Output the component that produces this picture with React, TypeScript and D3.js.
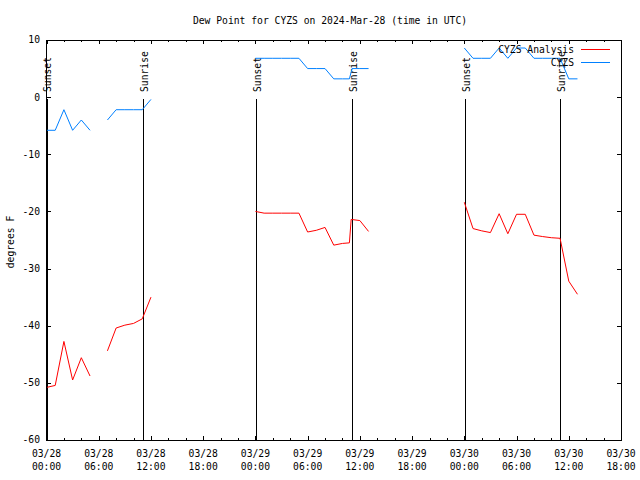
import * as d3 from 'd3';

// hours since 03/28 00:00 UTC, null = gap in the record
const obsHours = [0, 1, 2, 3, 4, 5, null, 7, 8, 9, 10, 11, 12, null,
  24, 25, 26, 27, 28, 29, 30, 31, 32, 33, 34, 34.8, 35.1, 36, 37, null,
  48, 49, 50, 51, 52, 53, 54, 55, 56, 57, 58, 59, 60, 61];
const obsValues = [-5.8, -5.8, -2.2, -5.8, -4, -5.8, null, -4, -2.2, -2.2, -2.2, -2.2, -0.4, null,
  6.8, 6.8, 6.8, 6.8, 6.8, 6.8, 5, 5, 5, 3.2, 3.2, 3.2, 5, 5, 5, null,
  8.6, 6.8, 6.8, 6.8, 8.6, 6.8, 8.6, 8.6, 6.8, 6.8, 6.8, 6.8, 3.2, 3.2];

const anaHours = [0, 1, 2, 3, 4, 5, null, 7, 8, 9, 10, 11, 12, null,
  24, 25, 26, 27, 28, 29, 30, 31, 32, 33, 34, 34.8, 35, 36, 37, null,
  48, 49, 50, 51, 52, 53, 54, 55, 56, 57, 58, 59, 60, 61];
const anaValues = [-50.8, -50.45, -42.75, -49.5, -45.6, -48.8, null, -44.4, -40.4, -39.9, -39.6, -38.8, -35, null,
  -20, -20.3, -20.3, -20.3, -20.3, -20.3, -23.6, -23.3, -22.8, -25.9, -25.6, -25.5, -21.4, -21.6, -23.5, null,
  -18.4, -23, -23.4, -23.7, -20.4, -23.9, -20.5, -20.5, -24.15, -24.4, -24.6, -24.7, -32.2, -34.5];

const sunsetHours = [0, 24.05, 48.1];
const sunriseHours = [11.05, 35.1, 59.0];

const xTickHours = [0, 6, 12, 18, 24, 30, 36, 42, 48, 54, 60, 66];
const xTickDates = ['03/28', '03/28', '03/28', '03/28', '03/29', '03/29', '03/29', '03/29', '03/30', '03/30', '03/30', '03/30'];
const xTickTimes = ['00:00', '06:00', '12:00', '18:00', '00:00', '06:00', '12:00', '18:00', '00:00', '06:00', '12:00', '18:00'];
const yTicks = [10, 0, -10, -20, -30, -40, -50, -60];

const FONT = '"DejaVu Sans Mono", monospace';
const FS = 9.7;

export default function App() {
  const left = 46.5, right = 621, top = 40, bottom = 440;
  const x = d3.scaleLinear().domain([0, 66]).range([left, right]);
  const y = d3.scaleLinear().domain([-60, 10]).range([bottom, top]);

  const toPts = (hs: (number | null)[], vs: (number | null)[]) =>
    hs.map((h, i) => ({ h, v: vs[i] }));
  const line = d3.line<{ h: number | null; v: number | null }>()
    .defined(d => d.h !== null && d.v !== null)
    .x(d => x(d.h as number))
    .y(d => y(d.v as number));

  const minor = d3.range(0, 67, 2);

  return (
    <svg width={640} height={480} style={{ position: 'absolute', left: 0, top: 0, background: '#fff' }}
      fontFamily={FONT} fontSize={FS}>
      <rect x={0} y={0} width={640} height={480} fill="#fff" />
      <text x={330} y={24} textAnchor="middle">Dew Point for CYZS on 2024-Mar-28 (time in UTC)</text>

      {/* x ticks top and bottom */}
      <g stroke="#000" strokeWidth={1} shapeRendering="crispEdges">
        {minor.map(h => {
          const len = h % 6 === 0 ? 4 : 2;
          const xx = Math.round(x(h)) + 0.5;
          return (
            <g key={h}>
              <line x1={xx} x2={xx} y1={bottom} y2={bottom - len} />
              <line x1={xx} x2={xx} y1={top} y2={top + len} />
            </g>
          );
        })}
        {yTicks.map(t => {
          const yy = Math.round(y(t)) + 0.5;
          return (
            <g key={t}>
              <line x1={left} x2={left + 4} y1={yy} y2={yy} />
              <line x1={right} x2={right - 4} y1={yy} y2={yy} />
            </g>
          );
        })}
      </g>

      {/* tick labels */}
      {yTicks.map(t => (
        <text key={t} x={40} y={y(t)} dy="0.35em" textAnchor="end">{t}</text>
      ))}
      {xTickHours.map((h, i) => (
        <g key={h}>
          <text x={x(h)} y={454} dy="0.35em" textAnchor="middle">{xTickDates[i]}</text>
          <text x={x(h)} y={467} dy="0.35em" textAnchor="middle">{xTickTimes[i]}</text>
        </g>
      ))}
      <text transform={`translate(11,242) rotate(-90)`} dy="0.35em" textAnchor="middle">degrees F</text>

      {/* sunset / sunrise markers */}
      {sunsetHours.map(h => (
        <g key={'ss' + h}>
          <line x1={Math.round(x(h)) + 0.5} x2={Math.round(x(h)) + 0.5} y1={99} y2={bottom} stroke="#000" shapeRendering="crispEdges" />
          <text transform={`translate(${x(h) + 1.5},92) rotate(-90)`} dy="0.35em" textAnchor="start">Sunset</text>
        </g>
      ))}
      {sunriseHours.map(h => (
        <g key={'sr' + h}>
          <line x1={Math.round(x(h)) + 0.5} x2={Math.round(x(h)) + 0.5} y1={99} y2={bottom} stroke="#000" shapeRendering="crispEdges" />
          <text transform={`translate(${x(h) + 1.5},92) rotate(-90)`} dy="0.35em" textAnchor="start">Sunrise</text>
        </g>
      ))}

      {/* series */}
      <path d={line(toPts(anaHours, anaValues)) || ''} fill="none" stroke="#ff0000" strokeWidth={1} />
      <path d={line(toPts(obsHours, obsValues)) || ''} fill="none" stroke="#0080ff" strokeWidth={1} />

      {/* legend */}
      <text x={574} y={50} dy="0.35em" textAnchor="end">CYZS Analysis</text>
      <line x1={581} x2={610} y1={49.5} y2={49.5} stroke="#ff0000" />
      <text x={574} y={63} dy="0.35em" textAnchor="end">CYZS</text>
      <line x1={581} x2={610} y1={62.5} y2={62.5} stroke="#0080ff" />

      {/* frame */}
      <rect x={left} y={top + 0.5} width={right - left} height={bottom - top} fill="none" stroke="#000" shapeRendering="crispEdges" />
    </svg>
  );
}
